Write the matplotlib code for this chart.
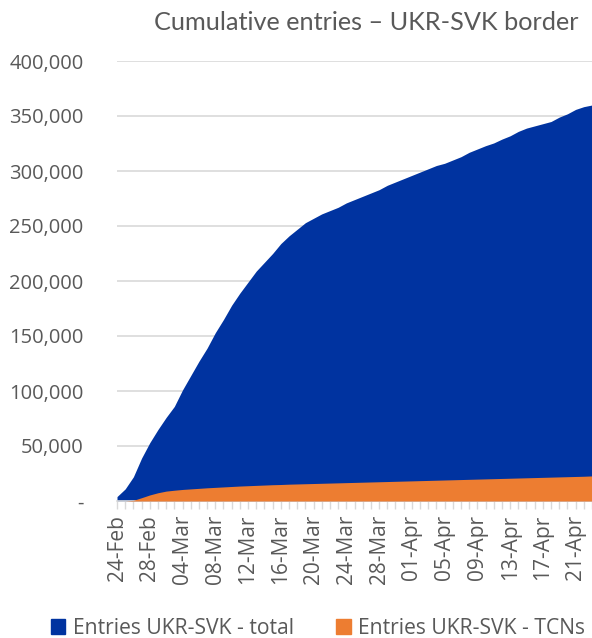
import matplotlib.pyplot as plt
import matplotlib.ticker as mticker
from matplotlib.patches import Patch
import pandas as pd

# daily categories, 24-Feb .. 23-Apr
dates = pd.date_range("2022-02-24", "2022-04-23", freq="D")
date_labels = [d.strftime("%d-%b") for d in dates]

# cumulative entries
entries_total = [
    4000, 11000, 22000, 39000, 53000, 65000, 76000, 86000, 101000, 114000,
    127000, 139000, 153000, 165000, 178000, 189000, 199000, 209000, 217000, 225000,
    234000, 241000, 247000, 253000, 257000, 261000, 264000, 267000, 271000, 274000,
    277000, 280000, 283000, 287000, 290000, 293000, 296000, 299000, 302000, 305000,
    307000, 310000, 313000, 317000, 320000, 323000, 325500, 329000, 332000, 336000,
    339000, 341000, 343000, 345000, 349000, 352000, 356000, 358500, 360000,
]
entries_tcn = [
    0, 0, 600, 3000, 5500, 7500, 9000, 9800, 10500, 11000,
    11500, 12000, 12400, 12800, 13200, 13600, 13900, 14200, 14500, 14800,
    15000, 15300, 15500, 15700, 15900, 16100, 16300, 16500, 16700, 16900,
    17100, 17300, 17500, 17700, 17900, 18100, 18300, 18500, 18700, 18900,
    19100, 19300, 19500, 19700, 19900, 20100, 20300, 20500, 20700, 20900,
    21100, 21300, 21500, 21700, 21900, 22100, 22300, 22500, 22800,
]

series_names = ["Entries UKR-SVK - total", "Entries UKR-SVK - TCNs"]
colors = ["#0033A0", "#ED7D31"]
y_ticks = [0, 50000, 100000, 150000, 200000, 250000, 300000, 350000, 400000]

W, H = 592, 638
fig = plt.figure(figsize=(W / 100, H / 100), dpi=100)
ax = fig.add_axes([117 / W, (H - 501) / H, 475 / W, 440 / H])

x = list(range(len(dates)))
ax.fill_between(x, 0, entries_total, color=colors[0], lw=0, zorder=2)
ax.fill_between(x, 0, entries_tcn, color=colors[1], lw=0, zorder=3)

ax.set_xlim(0, len(dates) - 1)
ax.set_ylim(0, 400000)

ax.set_yticks(y_ticks)
ax.yaxis.set_major_formatter(
    mticker.FuncFormatter(lambda v, p: "-" if v == 0 else f"{int(v):,}"))
ax.tick_params(axis="y", length=0, pad=24, labelsize=14.5, labelcolor="#595959")
ax.grid(axis="y", color="#D9D9D9", lw=1.2, zorder=0)

ax.set_xticks(x[::4])
ax.set_xticklabels(date_labels[::4], rotation=90)
ax.set_xticks(x, minor=True)
ax.tick_params(axis="x", which="both", length=6, width=1, color="#D9D9D9",
               labelsize=15, labelcolor="#595959", pad=4)

for s in ["top", "right", "left"]:
    ax.spines[s].set_visible(False)
ax.spines["bottom"].set_color("#D9D9D9")
ax.spines["bottom"].set_linewidth(1.2)
ax.set_axisbelow(True)

for lab in ax.get_xticklabels() + ax.get_yticklabels():
    lab.set_fontfamily("Open Sans")

fig.text(366 / W, 1 - 22 / H, "Cumulative entries \u2013 UKR-SVK border",
         ha="center", va="center", fontsize=18.2, color="#595959", family="Lato")

handles = [Patch(color=c) for c in colors]
fig.legend(handles, series_names, loc="center", bbox_to_anchor=(318 / W, 10 / H),
           ncol=2, frameon=False, handlelength=0.7, handleheight=0.7,
           handletextpad=0.35, columnspacing=2.0,
           prop={"family": "Open Sans", "size": 15.2})
for t in fig.legends[0].get_texts():
    t.set_color("#595959")

fig.savefig("out.png", dpi=100)
